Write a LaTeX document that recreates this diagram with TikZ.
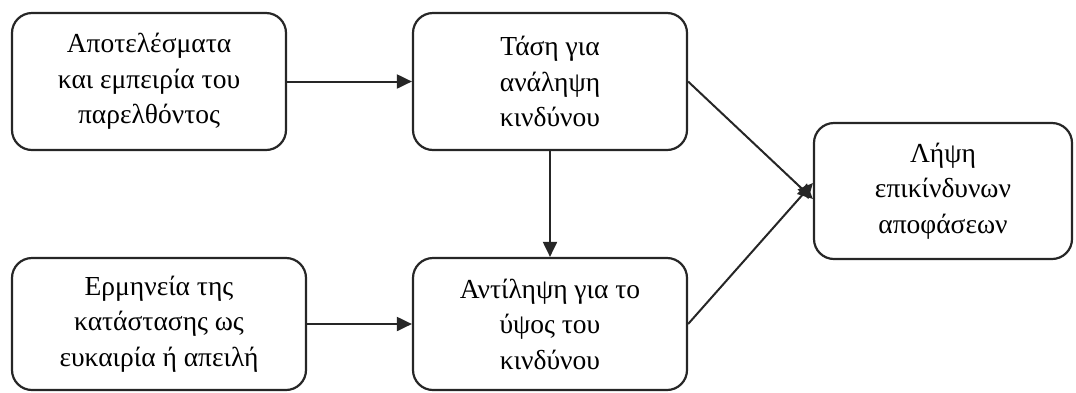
\documentclass[tikz,border=0pt]{standalone}
\usepackage{fontspec}
\setmainfont{Liberation Serif}
\usetikzlibrary{arrows.meta}
\begin{document}
\begin{tikzpicture}[x=1pt,y=-1pt,
  box/.style={draw=black!85, line width=2.2pt, rounded corners=20pt, align=center,
    inner sep=0pt, font=\fontsize{27.5}{35.5}\selectfont},
  conn/.style={draw=black!85, line width=2pt, -{Triangle[length=15pt,width=14pt]}}]
\useasboundingbox (0,0) rectangle (1076,392);
\node[box, minimum width=274pt, minimum height=137pt] (b1) at (149,81.5)
  {Αποτελέσματα\\και εμπειρία του\\παρελθόντος};
\node[box, minimum width=274pt, minimum height=137pt] (b2) at (550,81.5)
  {Τάση για\\ανάληψη\\κινδύνου};
\node[box, minimum width=258pt, minimum height=136pt] (b3) at (943,191)
  {Λήψη\\επικίνδυνων\\αποφάσεων};
\node[box, minimum width=294pt, minimum height=132pt] (b4) at (159,324)
  {Ερμηνεία της\\κατάστασης ως\\ευκαιρία ή απειλή};
\node[box, minimum width=274pt, minimum height=132pt] (b5) at (550,324)
  {Αντίληψη για το\\ύψος του\\κινδύνου};
\coordinate (t1) at ([yshift=-8pt]b3.west);
\coordinate (t2) at ([yshift=8pt]b3.west);
\draw[conn] (b1) -- (b2);
\draw[conn] (b4.east) -- (b5.west);
\draw[conn] (b2) -- (b5);
\draw[conn] (b2.east) -- (t1);
\draw[conn] (b5.east) -- (t2);
\end{tikzpicture}
\end{document}
